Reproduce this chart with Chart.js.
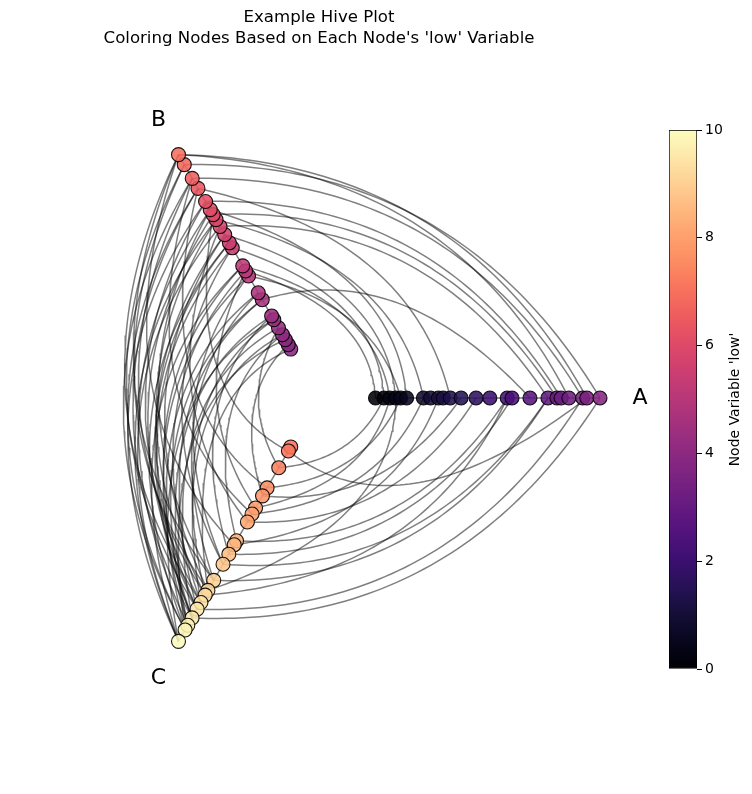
<!DOCTYPE html>
<html><head><meta charset="utf-8">
<script src="https://cdn.jsdelivr.net/npm/chart.js@4.4.1/dist/chart.umd.min.js"></script>
<style>
html,body{margin:0;padding:0;background:#fff;}
#wrap{position:relative;width:752px;height:794px;overflow:hidden;}
#main{position:absolute;left:0;top:0;}
#cbar{position:absolute;left:638px;top:0;}
</style></head><body>
<div id="wrap">
<canvas id="main" width="752" height="794"></canvas>
<canvas id="cbar" width="114" height="794"></canvas>
</div>
<script>
// ---------------- data ----------------
const titleLines = ['Example Hive Plot', "Coloring Nodes Based on Each Node's 'low' Variable"];
const axisNames = ['A', 'B', 'C'];
const axisAngles = [0, 120, 240];
// node variable 'low' on each axis (inner -> outer)
const lowA = [0.05, 0.19, 0.29, 0.39, 0.47, 0.57, 0.85, 0.97, 1.10, 1.18, 1.30, 1.48, 1.73, 1.96, 2.25, 2.33, 2.63, 2.93, 3.08, 3.15, 3.28, 3.51, 3.58, 3.80];
const lowB = [3.85, 3.92, 4.00, 4.08, 4.19, 4.32, 4.38, 4.64, 4.75, 5.02, 5.10, 5.18, 5.47, 5.55, 5.68, 5.81, 5.92, 6.00, 6.08, 6.21, 6.42, 6.58, 6.80, 6.96];
const lowC = [7.05, 7.11, 7.36, 7.66, 7.78, 7.96, 8.05, 8.17, 8.45, 8.51, 8.65, 8.80, 9.04, 9.19, 9.26, 9.37, 9.47, 9.60, 9.71, 9.78, 9.95];
// edges as [node index on first axis, node index on second axis]
const edgesAB = [[23,22],[22,23],[21,21],[20,23],[19,19],[18,17],[17,15],[16,7],[10,20],[6,16],[4,9],[3,14],[2,11],[1,12],[0,10],[5,18]];
const edgesBC = [[22,16],[23,15],[21,19],[20,17],[19,15],[17,16],[16,14],[18,12],[15,20],[14,13],[13,19],[12,11],[11,17],[10,15],[9,18],[8,12],[7,16],[6,10],[5,14],[4,2],[3,8],[2,19],[1,4],[0,13],[23,9],[21,6],[20,3],[19,20],[17,1],[15,7],[12,17],[9,11],[6,18],[22,13],[14,16],[10,5],[3,15],[11,20],[20,19],[18,18],[16,20],[13,17],[21,14],[23,12],[8,19],[5,20],[4,17],[7,18]];
const edgesCA = [[1,22],[17,23],[16,21],[12,17],[11,17],[10,15],[8,14],[7,12],[4,11],[9,8],[6,6],[3,4],[5,2],[2,1],[13,3],[14,14]];
const colorbarTicks = [0, 2, 4, 6, 8, 10];
const colorbarLabel = "Node Variable 'low'";
const vmin = 0, vmax = 10;

// ---------------- styling / helpers ----------------
const INNER = 56.5, OUTER = 281, LABEL_R = 321;
const FONT = "'DejaVu Sans', sans-serif";
const magmaStops = ['#000004','#07061c','#140e36','#251255','#3b0f70','#51127c','#641a80','#782281','#8c2981','#a1307e','#b73779','#cb3e71','#de4968','#ed5a5f','#f7705c','#fc8961','#fe9f6d','#feb77e','#fecf92','#fde7a9','#fcfdbf'];
function hex2rgb(h){return [parseInt(h.slice(1,3),16),parseInt(h.slice(3,5),16),parseInt(h.slice(5,7),16)];}
function magma(t, a){
  t = Math.max(0, Math.min(1, t));
  const n = magmaStops.length - 1, f = t * n, i = Math.min(Math.floor(f), n - 1), u = f - i;
  const c0 = hex2rgb(magmaStops[i]), c1 = hex2rgb(magmaStops[i+1]);
  const c = c0.map((v,k)=>Math.round(v + (c1[k]-v)*u));
  return `rgba(${c[0]},${c[1]},${c[2]},${a})`;
}
const lows = [lowA, lowB, lowC];
function radiusOf(axis, idx){
  const arr = lows[axis];
  const mn = Math.min(...arr), mx = Math.max(...arr);
  return INNER + (arr[idx]-mn)/(mx-mn)*(OUTER-INNER);
}
function polar(r, deg){ const a = deg*Math.PI/180; return {x: r*Math.cos(a), y: r*Math.sin(a)}; }
function nodePos(axis, idx){ return polar(radiusOf(axis, idx), axisAngles[axis]); }

function edgeCurve(ax1, i1, ax2, i2, midAngle){
  const r1 = radiusOf(ax1, i1), r2 = radiusOf(ax2, i2);
  const p0 = polar(r1, axisAngles[ax1]), p2 = polar(r2, axisAngles[ax2]);
  const c = polar((r1 + r2)/2, midAngle);
  const pts = [];
  const N = 60;
  for (let s = 0; s <= N; s++){
    const t = s/N, a = (1-t)*(1-t), b = 2*t*(1-t), d = t*t;
    pts.push({x: a*p0.x + b*c.x + d*p2.x, y: a*p0.y + b*c.y + d*p2.y});
  }
  return pts;
}

const datasets = [];
// nodes (first => drawn on top)
lows.forEach((arr, ax) => {
  datasets.push({
    type: 'scatter',
    data: arr.map((v,i)=>nodePos(ax,i)),
    pointRadius: 7, pointHoverRadius: 7,
    pointBackgroundColor: arr.map(v=>magma((v-vmin)/(vmax-vmin), 0.88)),
    pointBorderColor: 'rgba(0,0,0,0.9)', pointBorderWidth: 1.1,
    showLine: false
  });
});
function addEdges(list, ax1, ax2, mid){
  list.forEach(([i,j]) => {
    datasets.push({type:'line', data: edgeCurve(ax1,i,ax2,j,mid), borderColor:'rgba(0,0,0,0.5)', borderWidth:1.5, pointRadius:0, fill:false, tension:0});
  });
}
addEdges(edgesAB, 0, 1, 60);
addEdges(edgesBC, 1, 2, 180);
addEdges(edgesCA, 2, 0, 300);
// axes
axisAngles.forEach(ang => {
  datasets.push({type:'line', data:[polar(INNER, ang), polar(OUTER, ang)], borderColor:'rgba(0,0,0,0.5)', borderWidth:1.5, pointRadius:0, fill:false});
});

const textPlugin = {
  id: 'texts',
  afterDraw(chart){
    const ctx = chart.ctx, xs = chart.scales.x, ys = chart.scales.y;
    ctx.save();
    ctx.fillStyle = '#000';
    ctx.textAlign = 'center'; ctx.textBaseline = 'middle';
    ctx.font = `16.6px ${FONT}`;
    ctx.fillText(titleLines[0], 319, 18);
    ctx.fillText(titleLines[1], 319, 39);
    ctx.font = `22px ${FONT}`;
    axisNames.forEach((nm, k) => {
      const p = polar(LABEL_R, axisAngles[k]);
      ctx.fillText(nm, xs.getPixelForValue(p.x), ys.getPixelForValue(p.y) + (k === 2 ? 2 : 0));
    });
    ctx.restore();
  }
};

new Chart(document.getElementById('main'), {
  type: 'scatter',
  data: { datasets },
  options: {
    responsive: false, animation: false, events: [],
    layout: { padding: { left: 19, right: 133, top: 98, bottom: 96 } },
    scales: {
      x: { type:'linear', min:-300, max:300, display:false },
      y: { type:'linear', min:-300, max:300, display:false }
    },
    plugins: { legend:{display:false}, tooltip:{enabled:false}, title:{display:false} }
  },
  plugins: [textPlugin]
});

// ---------------- colorbar ----------------
const cbLabelPlugin = {
  id: 'cblabel',
  afterDraw(chart){
    const ctx = chart.ctx, ca = chart.chartArea;
    ctx.save();
    ctx.fillStyle = '#000';
    ctx.font = `14px ${FONT}`;
    ctx.textAlign = 'center'; ctx.textBaseline = 'middle';
    ctx.translate(97, (ca.top + ca.bottom)/2);
    ctx.rotate(-Math.PI/2);
    ctx.fillText(colorbarLabel, 0, 0);
    ctx.restore();
  }
};
new Chart(document.getElementById('cbar'), {
  type: 'bar',
  data: {
    labels: ['cb'],
    datasets: [{
      data: [[vmin, vmax]],
      backgroundColor: (c) => {
        const ca = c.chart.chartArea;
        if (!ca) return '#000';
        const g = c.chart.ctx.createLinearGradient(0, ca.bottom, 0, ca.top);
        magmaStops.forEach((h, k) => g.addColorStop(k/(magmaStops.length-1), h));
        return g;
      },
      borderColor: '#000', borderWidth: 1, borderSkipped: false,
      barPercentage: 1, categoryPercentage: 1
    }]
  },
  options: {
    responsive: false, animation: false, events: [],
    layout: { padding: { left: 31, right: 15, top: 130, bottom: 125 } },
    scales: {
      x: { display: false },
      y: {
        position: 'right', min: vmin, max: vmax,
        afterBuildTicks: (s) => { s.ticks = colorbarTicks.map(v => ({value: v})); },
        afterFit: (s) => { s.width = 40; },
        ticks: { color: '#000', font: { size: 14, family: FONT }, padding: 3 },
        grid: { display: true, drawOnChartArea: false, drawTicks: true, tickLength: 5, tickColor: '#000', tickWidth: 1 },
        border: { display: false }
      }
    },
    plugins: { legend:{display:false}, tooltip:{enabled:false} }
  },
  plugins: [cbLabelPlugin]
});
</script>
</body></html>
